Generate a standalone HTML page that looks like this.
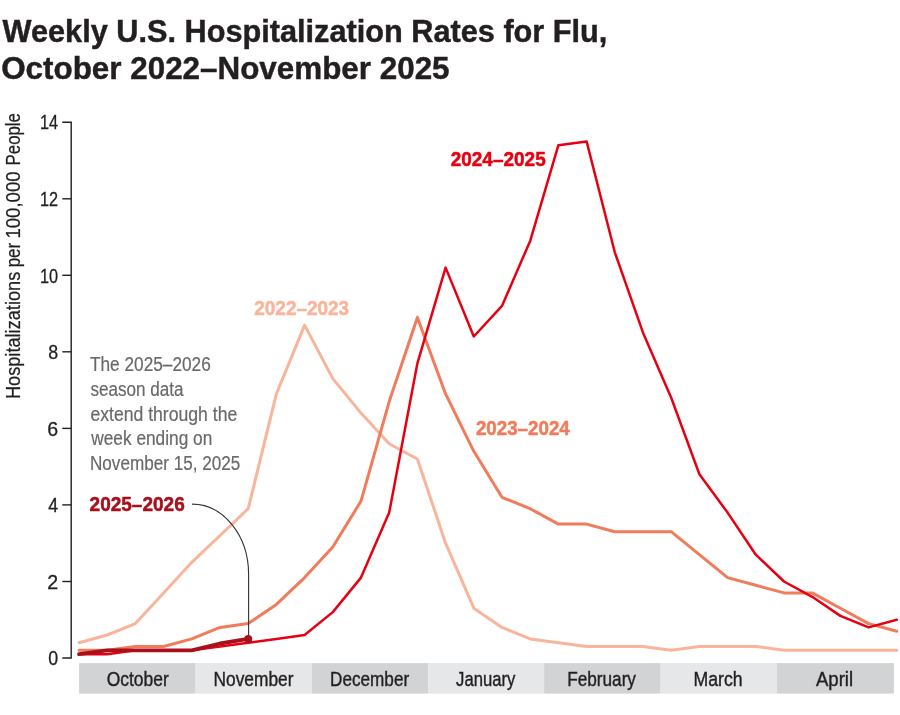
<!DOCTYPE html>
<html><head><meta charset="utf-8"><style>
html,body{margin:0;padding:0;background:#fff;}
svg{display:block;will-change:transform;}
text{font-family:"Liberation Sans", sans-serif;}
</style></head><body>
<svg width="900" height="715" viewBox="0 0 900 715">
<rect width="900" height="715" fill="#fff"/>
<rect x="79.1" y="663.1" width="116.5" height="30.5" fill="#d1d3d4"/>
<rect x="195.6" y="663.1" width="116.3" height="30.5" fill="#e6e7e8"/>
<rect x="311.9" y="663.1" width="116.2" height="30.5" fill="#d1d3d4"/>
<rect x="428.1" y="663.1" width="116.0" height="30.5" fill="#e6e7e8"/>
<rect x="544.1" y="663.1" width="116.5" height="30.5" fill="#d1d3d4"/>
<rect x="660.6" y="663.1" width="116.3" height="30.5" fill="#e6e7e8"/>
<rect x="776.9" y="663.1" width="117.0" height="30.5" fill="#d1d3d4"/>
<path d="M62.3,122.2 H71.2 V658 H62.3" fill="none" stroke="#231f20" stroke-width="1.4"/>
<path d="M62.3,581.5 H71.2" stroke="#231f20" stroke-width="1.4"/>
<path d="M62.3,504.9 H71.2" stroke="#231f20" stroke-width="1.4"/>
<path d="M62.3,428.4 H71.2" stroke="#231f20" stroke-width="1.4"/>
<path d="M62.3,351.8 H71.2" stroke="#231f20" stroke-width="1.4"/>
<path d="M62.3,275.3 H71.2" stroke="#231f20" stroke-width="1.4"/>
<path d="M62.3,198.8 H71.2" stroke="#231f20" stroke-width="1.4"/>
<polyline points="79.0,642.7 107.2,635.0 135.4,623.6 163.6,592.9 191.8,562.3 220.0,535.5 248.2,508.7 276.4,393.9 304.6,325.1 332.8,378.6 361.0,413.1 389.2,443.7 417.4,459.0 445.6,543.2 473.8,608.2 502.0,627.4 530.2,638.9 558.4,642.7 586.6,646.5 614.8,646.5 643.0,646.5 671.2,650.3 699.4,646.5 727.6,646.5 755.8,646.5 784.0,650.3 812.2,650.3 840.4,650.3 868.6,650.3 896.8,650.3" fill="none" stroke="#f9b59c" stroke-width="3" stroke-linejoin="round" stroke-linecap="round"/>
<polyline points="79.0,650.3 107.2,650.3 135.4,646.5 163.6,646.5 191.8,638.9 220.0,627.4 248.2,623.6 276.4,604.4 304.6,577.6 332.8,547.0 361.0,501.1 389.2,401.6 417.4,317.4 445.6,393.9 473.8,451.3 502.0,497.3 530.2,508.7 558.4,524.1 586.6,524.1 614.8,531.7 643.0,531.7 671.2,531.7 699.4,554.7 727.6,577.6 755.8,585.3 784.0,592.9 812.2,592.9 840.4,608.2 868.6,623.6 896.8,631.2" fill="none" stroke="#f07c5c" stroke-width="3" stroke-linejoin="round" stroke-linecap="round"/>
<polyline points="79.0,654.2 107.2,654.2 135.4,650.3 163.6,650.3 191.8,650.3 220.0,646.5 248.2,642.7 276.4,638.9 304.6,635.0 332.8,612.1 361.0,577.6 389.2,512.6 417.4,363.3 445.6,267.6 473.8,336.5 502.0,305.9 530.2,240.9 558.4,145.2 586.6,141.4 614.8,252.3 643.0,332.7 671.2,397.8 699.4,474.3 727.6,512.6 755.8,554.7 784.0,581.5 812.2,596.8 840.4,615.9 868.6,627.4 896.8,619.7" fill="none" stroke="#e60012" stroke-width="2.5" stroke-linejoin="round" stroke-linecap="round"/>
<path d="M192,504.1 A56.6,70.2 0 0 1 248.6,574.3 L248.6,639" fill="none" stroke="#333" stroke-width="1.1"/>
<polyline points="79.0,654.2 107.2,650.3 135.4,650.3 163.6,650.3 191.8,650.3 220.0,643.5 248.2,638.9" fill="none" stroke="#a8101c" stroke-width="3.8" stroke-linejoin="round" stroke-linecap="round"/>
<circle cx="248.2" cy="638.9" r="4" fill="#a8101c"/>
<text x="2.50" y="41.5" font-size="31" font-weight="bold" fill="#231f20" stroke="#231f20" stroke-width="0.45" textLength="604.90" lengthAdjust="spacingAndGlyphs">Weekly U.S. Hospitalization Rates for Flu,</text>
<text x="1.19" y="78.5" font-size="31" font-weight="bold" fill="#231f20" stroke="#231f20" stroke-width="0.45" textLength="448.36" lengthAdjust="spacingAndGlyphs">October 2022–November 2025</text>
<text transform="translate(20,399.08) rotate(-90)" font-size="20.6" fill="#231f20" stroke="#231f20" stroke-width="0.25" textLength="127.35" lengthAdjust="spacingAndGlyphs">Hospitalizations</text>
<text transform="translate(20,267.32) rotate(-90)" font-size="20.6" fill="#231f20" stroke="#231f20" stroke-width="0.25" textLength="24.51" lengthAdjust="spacingAndGlyphs">per</text>
<text transform="translate(20,238.50) rotate(-90)" font-size="20.6" fill="#231f20" stroke="#231f20" stroke-width="0.25" textLength="67.01" lengthAdjust="spacingAndGlyphs">100,000</text>
<text transform="translate(20,165.42) rotate(-90)" font-size="20.6" fill="#231f20" stroke="#231f20" stroke-width="0.25" textLength="52.39" lengthAdjust="spacingAndGlyphs">People</text>
<text x="106.70" y="685.5" font-size="20.5" fill="#231f20" stroke="#231f20" stroke-width="0.4" textLength="62.05" lengthAdjust="spacingAndGlyphs">October</text>
<text x="213.56" y="685.5" font-size="20.5" fill="#231f20" stroke="#231f20" stroke-width="0.4" textLength="79.90" lengthAdjust="spacingAndGlyphs">November</text>
<text x="330.06" y="685.5" font-size="20.5" fill="#231f20" stroke="#231f20" stroke-width="0.4" textLength="79.09" lengthAdjust="spacingAndGlyphs">December</text>
<text x="456.10" y="685.5" font-size="20.5" fill="#231f20" stroke="#231f20" stroke-width="0.4" textLength="59.29" lengthAdjust="spacingAndGlyphs">January</text>
<text x="567.16" y="685.5" font-size="20.5" fill="#231f20" stroke="#231f20" stroke-width="0.4" textLength="68.81" lengthAdjust="spacingAndGlyphs">February</text>
<text x="693.54" y="685.5" font-size="20.5" fill="#231f20" stroke="#231f20" stroke-width="0.4" textLength="49.11" lengthAdjust="spacingAndGlyphs">March</text>
<text x="815.90" y="685.5" font-size="20.5" fill="#231f20" stroke="#231f20" stroke-width="0.4" textLength="37.20" lengthAdjust="spacingAndGlyphs">April</text>
<text x="48.20" y="665.2" font-size="20" fill="#231f20" stroke="#231f20" stroke-width="0.3" textLength="9.91" lengthAdjust="spacingAndGlyphs">0</text>
<text x="47.22" y="588.6600000000001" font-size="20" fill="#231f20" stroke="#231f20" stroke-width="0.3" textLength="10.90" lengthAdjust="spacingAndGlyphs">2</text>
<text x="48.20" y="512.12" font-size="20" fill="#231f20" stroke="#231f20" stroke-width="0.3" textLength="9.91" lengthAdjust="spacingAndGlyphs">4</text>
<text x="47.22" y="435.58" font-size="20" fill="#231f20" stroke="#231f20" stroke-width="0.3" textLength="10.90" lengthAdjust="spacingAndGlyphs">6</text>
<text x="48.20" y="359.03999999999996" font-size="20" fill="#231f20" stroke="#231f20" stroke-width="0.3" textLength="9.91" lengthAdjust="spacingAndGlyphs">8</text>
<text x="39.99" y="282.49999999999994" font-size="20" fill="#231f20" stroke="#231f20" stroke-width="0.3" textLength="18.11" lengthAdjust="spacingAndGlyphs">10</text>
<text x="39.99" y="205.95999999999998" font-size="20" fill="#231f20" stroke="#231f20" stroke-width="0.3" textLength="18.11" lengthAdjust="spacingAndGlyphs">12</text>
<text x="39.99" y="129.4199999999999" font-size="20" fill="#231f20" stroke="#231f20" stroke-width="0.3" textLength="18.11" lengthAdjust="spacingAndGlyphs">14</text>
<text x="254.30" y="315.3" font-size="20.6" font-weight="bold" fill="#f9b59c" stroke="#f9b59c" stroke-width="0.5" textLength="94.82" lengthAdjust="spacingAndGlyphs">2022–2023</text>
<text x="475.90" y="435.3" font-size="20.6" font-weight="bold" fill="#f07c5c" stroke="#f07c5c" stroke-width="0.5" textLength="93.90" lengthAdjust="spacingAndGlyphs">2023–2024</text>
<text x="450.70" y="166" font-size="20.6" font-weight="bold" fill="#e60012" stroke="#e60012" stroke-width="0.5" textLength="95.02" lengthAdjust="spacingAndGlyphs">2024–2025</text>
<text x="89.60" y="511" font-size="20.6" font-weight="bold" fill="#a8101c" stroke="#a8101c" stroke-width="0.5" textLength="95.12" lengthAdjust="spacingAndGlyphs">2025–2026</text>
<text x="90.00" y="370.9" font-size="20" fill="#68696b" stroke="#68696b" stroke-width="0.2" textLength="120.81" lengthAdjust="spacingAndGlyphs">The 2025–2026</text>
<text x="90.40" y="396" font-size="20" fill="#68696b" stroke="#68696b" stroke-width="0.2" textLength="93.15" lengthAdjust="spacingAndGlyphs">season data</text>
<text x="90.40" y="420.6" font-size="20" fill="#68696b" stroke="#68696b" stroke-width="0.2" textLength="146.91" lengthAdjust="spacingAndGlyphs">extend through the</text>
<text x="91.26" y="445.1" font-size="20" fill="#68696b" stroke="#68696b" stroke-width="0.2" textLength="121.01" lengthAdjust="spacingAndGlyphs">week ending on</text>
<text x="89.94" y="469.7" font-size="20" fill="#68696b" stroke="#68696b" stroke-width="0.2" textLength="150.36" lengthAdjust="spacingAndGlyphs">November 15, 2025</text>
</svg></body></html>
